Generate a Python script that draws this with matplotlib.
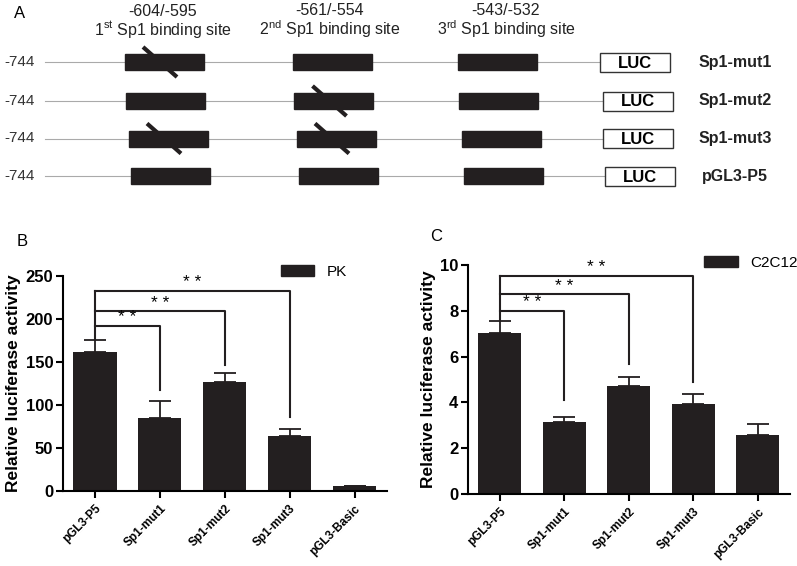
import matplotlib
matplotlib.use("Agg")
import matplotlib.pyplot as plt
from matplotlib.patches import Rectangle, Patch
import numpy as np

plt.rcParams["font.family"] = ["Liberation Sans", "DejaVu Sans"]
plt.rcParams["mathtext.fontset"] = "custom"
plt.rcParams["mathtext.rm"] = "Liberation Sans"

# ---- panel A data ----
start_pos = "-744"
site_ranges = ["-604/-595", "-561/-554", "-543/-532"]
site_names = [r"1$^{\rm st}$ Sp1 binding site", r"2$^{\rm nd}$ Sp1 binding site", r"3$^{\rm rd}$ Sp1 binding site"]
constructs = ["Sp1-mut1", "Sp1-mut2", "Sp1-mut3", "pGL3-P5"]
mutated = [[1, 0, 0], [0, 1, 0], [1, 1, 0], [0, 0, 0]]

# ---- panels B / C data ----
groups = ["pGL3-P5", "Sp1-mut1", "Sp1-mut2", "Sp1-mut3", "pGL3-Basic"]
pk_mean = [162, 84.5, 126.7, 63.6, 5.8]
pk_err = [13.6, 20.5, 10.1, 8.9, 0.4]
c2_mean = [7.02, 3.16, 4.73, 3.92, 2.58]
c2_err = [0.53, 0.19, 0.36, 0.46, 0.48]
sig_pairs = [(0, 1), (0, 2), (0, 3)]
pk_bracket = [192, 209, 233]
pk_drop = [117, 146, 86]
c2_bracket = [8.0, 8.72, 9.52]
c2_drop = [4.1, 5.66, 4.9]

W, H = 797, 566
fig = plt.figure(figsize=(W / 100, H / 100), dpi=100)
bar_color = "#231f20"

# ---------------- Panel A (schematic, pixel-like coords) ----------------
axa = fig.add_axes([0, 1 - 226 / H, 1, 226 / H])
axa.set_xlim(0, W)
axa.set_ylim(226, 0)
axa.axis("off")
axa.text(20, 13, "A", fontsize=12, ha="center", va="center")

row_y = [62, 101, 138.5, 176]
row_shift = [0, 1.5, 4, 6]
site_x = [125, 293, 458]
site_w = 79
box_h = 16
luc_x = [600, 603, 603, 605]
luc_w, luc_h = 70, 19
header_x = [163, 330, 506]
for hx, r, n in zip(header_x, site_ranges, site_names):
    axa.text(hx, 21.5, r + "\n" + n, fontsize=11.5, ha="center", va="center",
             color="#222222", linespacing=1.0)

for i, (name, muts) in enumerate(zip(constructs, mutated)):
    y = row_y[i]
    axa.text(4, y, start_pos, fontsize=11, ha="left", va="center", color="#333333")
    axa.plot([45, luc_x[i]], [y, y], color="#aaaaaa", lw=0.8, zorder=1)
    for j, m in enumerate(muts):
        x0 = site_x[j] + row_shift[i]
        axa.add_patch(Rectangle((x0, y - box_h / 2), site_w, box_h, color=bar_color, zorder=2))
        if m:
            cx = x0 + 35
            axa.plot([cx - 17, cx + 17], [y - 15, y + 15], color=bar_color, lw=3, zorder=3,
                     solid_capstyle="butt")
    axa.add_patch(Rectangle((luc_x[i], y - luc_h / 2), luc_w, luc_h, fill=False,
                            ec="#333333", lw=1, zorder=2))
    axa.text(luc_x[i] + luc_w / 2, y + 1, "LUC", fontsize=12, fontweight="bold",
             ha="center", va="center")
    axa.text(735, y, name, fontsize=11.5, fontweight="bold", ha="center", va="center",
             color="#222222")


# ---------------- bar panels ----------------
def bar_panel(rect, means, errs, ylim, yticks, brackets, drops, legend_label, leg_anchor):
    ax = fig.add_axes(rect)
    x = np.arange(len(groups))
    ax.bar(x, means, width=0.67, color=bar_color, zorder=2)
    ax.errorbar(x, means, yerr=[np.zeros(len(errs)), errs], fmt="none", ecolor=bar_color,
                elinewidth=1.3, capsize=8, capthick=1.3, zorder=1)
    top = means[0] + errs[0]
    ax.plot([0, 0], [top, max(brackets)], color=bar_color, lw=1.5, clip_on=False)
    for (a, b), by, dy in zip(sig_pairs, brackets, drops):
        ax.plot([a, b, b], [by, by, dy], color=bar_color, lw=1.5, clip_on=False)
        ax.text((a + b) / 2, by + (ylim[1] - ylim[0]) * 0.003, "* *", fontsize=12.5,
                ha="center", va="bottom", clip_on=False)
    ax.set_ylim(*ylim)
    ax.set_xlim(-0.49, len(groups) - 0.5)
    ax.set_yticks(yticks)
    ax.set_xticks(x)
    ax.set_xticklabels(groups, rotation=45, ha="right", rotation_mode="anchor",
                       fontsize=8.5, fontweight="bold")
    for lab in ax.get_yticklabels():
        lab.set_fontweight("bold")
    ax.tick_params(axis="y", labelsize=12, width=1.5, length=5, pad=2)
    ax.tick_params(axis="x", width=1.5, length=5)
    for s in ["top", "right"]:
        ax.spines[s].set_visible(False)
    for s in ["left", "bottom"]:
        ax.spines[s].set_linewidth(1.5)
    ax.set_ylabel("Relative luciferase activity", fontsize=12.5, fontweight="bold", labelpad=3)
    ax.legend([Patch(color=bar_color)], [legend_label], loc="center left",
              bbox_to_anchor=leg_anchor, frameon=False, fontsize=11,
              handlelength=2.2, handleheight=0.8)
    return ax


axb = bar_panel([63 / W, 1 - 491 / H, 324 / W, 215 / H], pk_mean, pk_err, (0, 250),
                [0, 50, 100, 150, 200, 250], pk_bracket, pk_drop, "PK", (0.63, 1.02))
fig.text(22 / W, 1 - 242 / H, "B", fontsize=12, ha="center", va="center")

axc = bar_panel([468 / W, 1 - 494 / H, 322 / W, 229 / H], c2_mean, c2_err, (0, 10),
                [0, 2, 4, 6, 8, 10], c2_bracket, c2_drop, "C2C12", (0.69, 1.01))
fig.text(436 / W, 1 - 236 / H, "C", fontsize=12, ha="center", va="center")

fig.savefig("out.png", dpi=100)
